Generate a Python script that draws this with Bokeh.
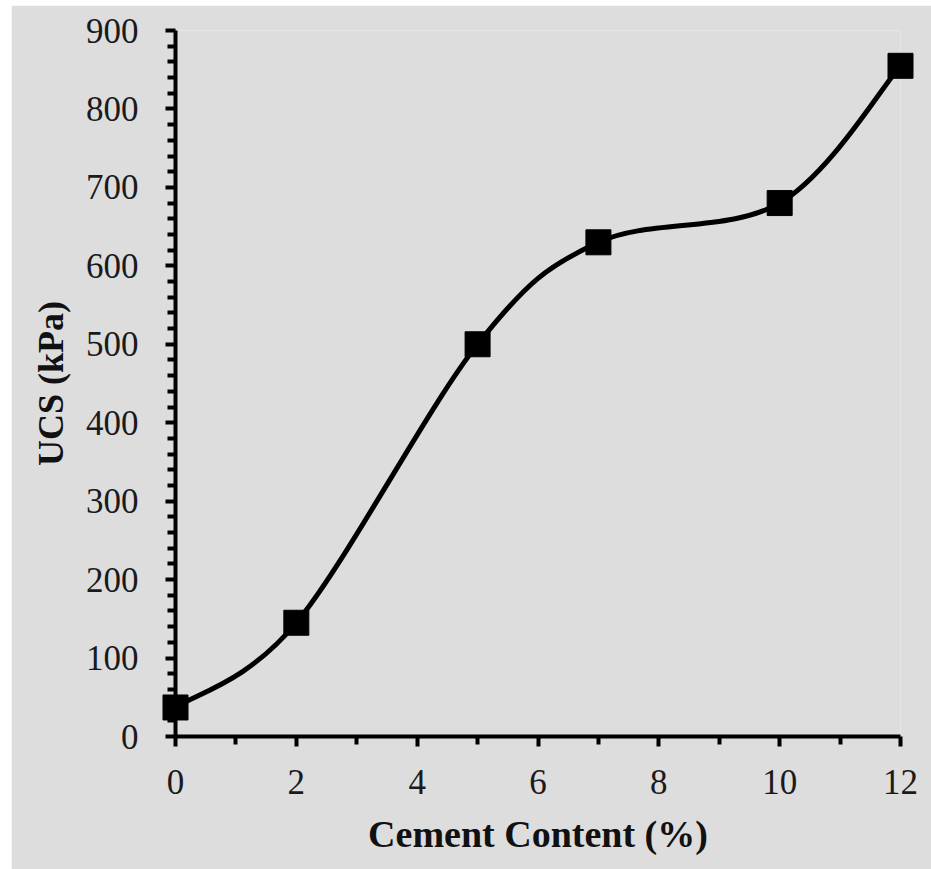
from bokeh.plotting import figure
from bokeh.models import FixedTicker, Range1d, ColumnDataSource
from bokeh.embed import file_html
from bokeh.resources import INLINE

# data
cement = [0, 2, 5, 7, 10, 12]
ucs = [37, 145, 500, 630, 680, 855]

x_ticks = [0, 2, 4, 6, 8, 10, 12]
x_minor = [1, 3, 5, 7, 9, 11]
y_ticks = [0, 100, 200, 300, 400, 500, 600, 700, 800, 900]
y_minor = [v for v in range(0, 901, 20) if v % 100 != 0]

BG = "#dddddd"
FONT = "Liberation Serif"

p = figure(width=920, height=866, output_backend="svg", toolbar_location=None,
           x_range=Range1d(0, 12), y_range=Range1d(0, 900),
           min_border_left=164, min_border_right=31, min_border_top=25, min_border_bottom=135)
p.margin = (5, 0, 0, 11)
p.background_fill_color = BG
p.border_fill_color = BG
p.outline_line_color = None
p.grid.visible = False

# smooth curve (Catmull-Rom style Bezier through the points)
n = len(cement)
x0, y0, x1, y1, cx0, cy0, cx1, cy1 = [], [], [], [], [], [], [], []
for i in range(n - 1):
    xp = cement[i - 1] if i > 0 else cement[i]
    yp = ucs[i - 1] if i > 0 else ucs[i]
    xn2 = cement[i + 2] if i + 2 < n else cement[i + 1]
    yn2 = ucs[i + 2] if i + 2 < n else ucs[i + 1]
    x0.append(cement[i]); y0.append(ucs[i])
    x1.append(cement[i + 1]); y1.append(ucs[i + 1])
    cx0.append(cement[i] + (cement[i + 1] - xp) / 6.0)
    cy0.append(ucs[i] + (ucs[i + 1] - yp) / 6.0)
    cx1.append(cement[i + 1] - (xn2 - cement[i]) / 6.0)
    cy1.append(ucs[i + 1] - (yn2 - ucs[i]) / 6.0)

p.bezier(x0=x0, y0=y0, x1=x1, y1=y1, cx0=cx0, cy0=cy0, cx1=cx1, cy1=cy1,
         line_color="black", line_width=5, level="overlay")
src = ColumnDataSource(dict(x=cement, y=ucs))
p.scatter("x", "y", source=src, marker="square", size=25, fill_color="black",
          line_color="black", level="overlay")

for ax in (p.xaxis[0], p.yaxis[0]):
    ax.axis_line_width = 4
    ax.axis_line_color = "black"
    ax.major_tick_line_width = 4
    ax.minor_tick_line_width = 4
    ax.major_tick_line_color = "black"
    ax.minor_tick_line_color = "black"
    ax.major_tick_in = 0
    ax.major_tick_out = 10
    ax.minor_tick_in = 0
    ax.minor_tick_out = 8
    ax.major_label_text_font = FONT
    ax.major_label_text_font_size = "35px"
    ax.major_label_text_color = "#1a1a1a"
    ax.axis_label_text_font = FONT
    ax.axis_label_text_font_style = "bold"
    ax.axis_label_text_color = "#111111"

p.xaxis[0].ticker = FixedTicker(ticks=x_ticks, minor_ticks=x_minor)
p.yaxis[0].ticker = FixedTicker(ticks=y_ticks, minor_ticks=y_minor)
p.xaxis[0].axis_label = "Cement Content (%)"
p.yaxis[0].axis_label = "UCS (kPa)"
p.xaxis[0].axis_label_text_font_size = "38px"
p.yaxis[0].axis_label_text_font_size = "36px"
p.xaxis[0].major_label_standoff = 23
p.yaxis[0].major_label_standoff = 27
p.xaxis[0].axis_label_standoff = 16
p.yaxis[0].axis_label_standoff = 12

open("out.html", "w").write(file_html(p, INLINE))
